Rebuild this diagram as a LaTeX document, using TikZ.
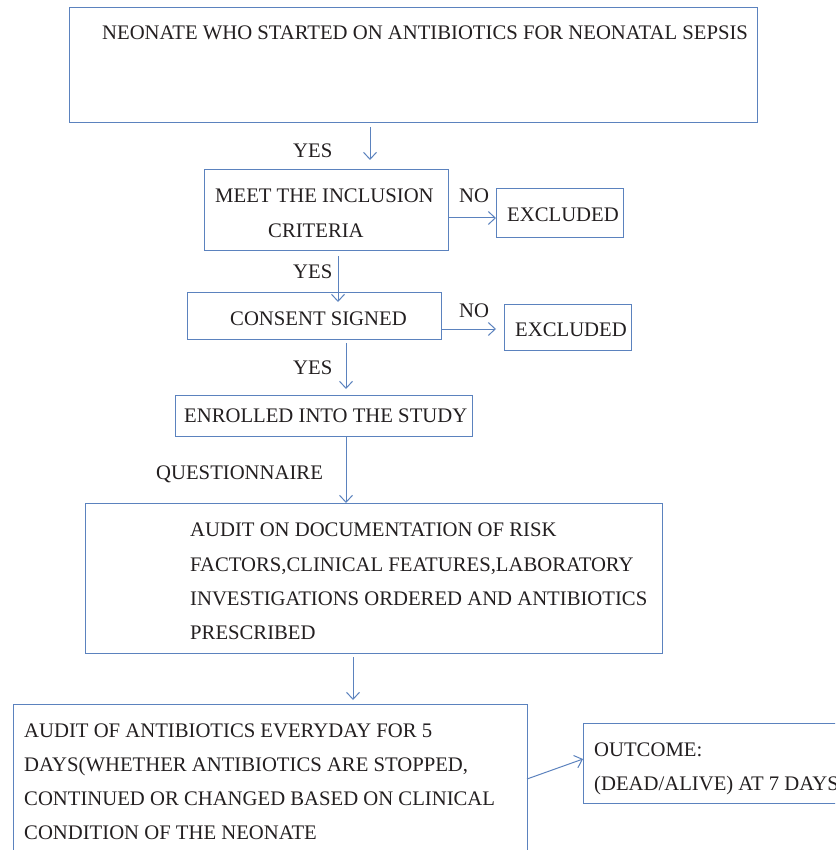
\documentclass[tikz,border=0pt]{standalone}
\usepackage{fontspec}
\setmainfont{Liberation Serif}
\usetikzlibrary{arrows.meta}
\definecolor{boxblue}{HTML}{5B82BE}
\definecolor{txtcol}{HTML}{231F20}
\begin{document}
\begin{tikzpicture}[x=1pt,y=-1pt,
  box/.style={draw=boxblue,line width=1pt,anchor=north west,inner sep=0pt,outer sep=0pt},
  lbl/.style={anchor=base west,inner sep=0pt,text=txtcol,font=\fontsize{20.7}{22}\selectfont},
  conn/.style={draw=boxblue,line width=1pt,-{Straight Barb[length=7pt,width=13pt,line width=1pt]}}]
\path[use as bounding box,fill=white] (0,0) rectangle (835,850);
\clip (0,0) rectangle (835,850);
% boxes
\node[box,minimum width=688pt,minimum height=115pt] (top) at (69,8) {};
\node[box,minimum width=244pt,minimum height=80pt] (meet) at (204,170) {};
\node[box,minimum width=127pt,minimum height=48pt] (ex1) at (496,189) {};
\node[box,minimum width=254pt,minimum height=47pt] (cons) at (187,292) {};
\node[box,minimum width=127pt,minimum height=46pt] (ex2) at (504,304) {};
\node[box,minimum width=297pt,minimum height=41pt] (enr) at (175,395) {};
\node[box,minimum width=577pt,minimum height=150pt] (aud) at (85,503) {};
\node[box,minimum width=514pt,minimum height=170pt] (aab) at (13,704) {};
\node[box,minimum width=280pt,minimum height=80pt] (out) at (583,723) {};
% texts
\node[lbl] (t1) at (102,40) {NEONATE WHO STARTED ON ANTIBIOTICS FOR NEONATAL SEPSIS};
\node[lbl] (y1) at (293,158) {YES};
\node[lbl] (m1) at (215,203) {MEET THE INCLUSION};
\node[lbl] (m2) at (268,237) {CRITERIA};
\node[lbl] (n1) at (459,203) {NO};
\node[lbl] (e1) at (507,222) {EXCLUDED};
\node[lbl] (y2) at (293,278) {YES};
\node[lbl] (c1) at (230,325) {CONSENT SIGNED};
\node[lbl] (n2) at (459,317) {NO};
\node[lbl] (e2) at (515,336) {EXCLUDED};
\node[lbl] (y3) at (293,374) {YES};
\node[lbl] (en) at (184,422) {ENROLLED INTO THE STUDY};
\node[lbl] (q) at (156,479) {QUESTIONNAIRE};
\node[lbl] (a1) at (190,536) {AUDIT ON DOCUMENTATION OF RISK};
\node[lbl] (a2) at (190,571) {FACTORS,CLINICAL FEATURES,LABORATORY};
\node[lbl] (a3) at (190,605) {INVESTIGATIONS ORDERED AND ANTIBIOTICS};
\node[lbl] (a4) at (190,639) {PRESCRIBED};
\node[lbl] (b1) at (24,737) {AUDIT OF ANTIBIOTICS EVERYDAY FOR 5};
\node[lbl] (b2) at (24,771) {DAYS(WHETHER ANTIBIOTICS ARE STOPPED,};
\node[lbl] (b3) at (24,805) {CONTINUED OR CHANGED BASED ON CLINICAL};
\node[lbl] (b4) at (24,839) {CONDITION OF THE NEONATE};
\node[lbl] (o1) at (594,756) {OUTCOME:};
\node[lbl] (o2) at (594,790) {(DEAD/ALIVE) AT 7 DAYS};
% connectors
\draw[conn] ([yshift=-4pt]top.south -| 370,0) -- ([yshift=10pt]meet.north -| 370,0);
\draw[conn] (meet.east |- 0,218) -- (ex1.west |- 0,218);
\draw[conn] ([yshift=-6pt]meet.south -| 338,0) -- ([yshift=-10pt]cons.north -| 338,0);
\draw[conn] (cons.east |- 0,329) -- ([xshift=-8pt]ex2.west |- 0,329);
\draw[conn] ([yshift=-4pt]cons.south -| 346,0) -- ([yshift=6pt]enr.north -| 346,0);
\draw[conn] (enr.south -| 346,0) -- (aud.north -| 346,0);
\draw[conn] ([yshift=-4pt]aud.south -| 353,0) -- ([yshift=4pt]aab.north -| 353,0);
\draw[conn] (aab.east |- 0,779) -- (out.west |- 0,759);
\end{tikzpicture}
\end{document}
